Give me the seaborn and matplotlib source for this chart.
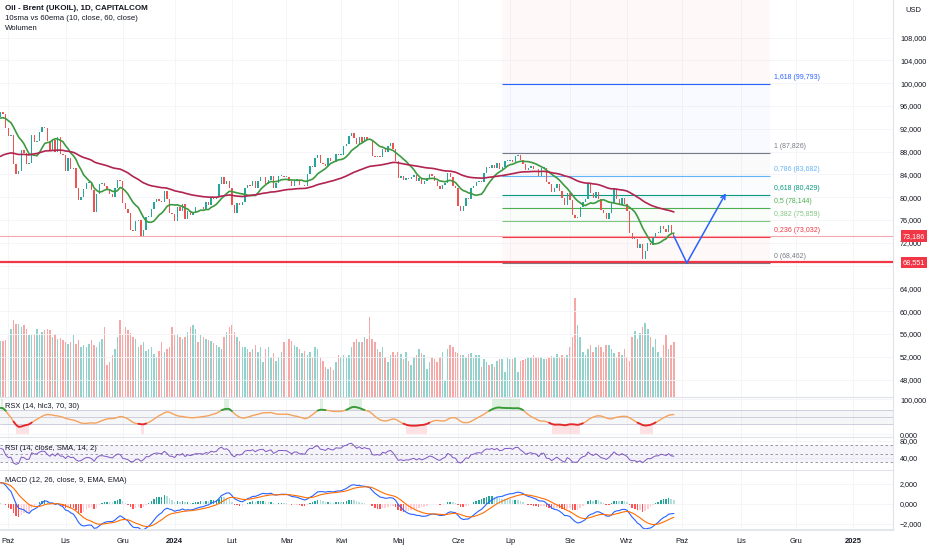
import numpy as np
import pandas as pd
import matplotlib
matplotlib.use("Agg")
import matplotlib.pyplot as plt
import matplotlib.transforms as mtransforms
import seaborn as sns

sns.set_theme(style="white")
plt.rcParams["font.family"] = ["Liberation Sans Narrow", "Liberation Sans", "DejaVu Sans"]

# daily closes (UKOIL CFD), one list per month
# warm-up closes before the first visible bar, they only feed the indicators
warmup_close = [84.9, 83.5, 84.1, 84.8, 84.5, 84.0, 83.2, 83.4, 84.5, 84.4, 85.5, 85.9, 86.8,
                88.6, 89.0, 90.0, 90.6, 89.9, 90.7, 90.6, 92.1, 91.9, 93.7, 93.9, 94.4, 94.3,
                93.5, 93.3, 93.3, 93.3, 94.0]
close_2023_09 = [95.0, 94.6, 92.2]
close_2023_10 = [90.7, 90.9, 85.8, 84.1, 84.6, 88.2, 87.7, 85.8, 86.0, 90.9, 89.7, 89.9, 91.5,
                 92.4, 92.2, 89.8, 88.1, 90.1, 87.9, 90.5, 87.5, 87.4]
close_2023_11 = [84.6, 86.9, 84.9, 85.2, 81.6, 79.5, 80.0, 81.4, 82.5, 82.5, 81.2, 77.4, 80.6,
                 82.3, 82.5, 82.0, 81.4, 80.6, 80.0, 81.7, 83.1, 82.8]
close_2023_12 = [78.9, 78.0, 77.2, 74.3, 74.1, 75.8, 76.0, 73.2, 74.3, 76.6, 76.6, 78.0, 79.2,
                 79.7, 79.4, 79.1, 81.1, 79.7, 77.2, 77.0]
close_2024_01 = [75.9, 78.3, 77.6, 78.8, 76.1, 77.6, 76.8, 77.4, 78.3, 78.2, 78.3, 77.9, 79.1,
                 78.6, 80.1, 79.6, 80.0, 82.4, 83.6, 82.4, 82.9, 81.7]
close_2024_02 = [78.7, 77.3, 79.0, 78.6, 79.2, 81.6, 82.2, 82.0, 82.8, 81.6, 82.9, 83.5, 83.6,
                 82.3, 83.0, 83.7, 81.6, 82.5, 83.7, 83.7, 83.6]
close_2024_03 = [83.6, 82.8, 82.0, 83.0, 83.0, 82.1, 82.2, 81.9, 84.0, 85.4, 85.3, 86.9, 87.4,
                 86.0, 85.8, 85.4, 86.8, 86.3, 86.1, 87.5, 87.4]
close_2024_04 = [87.4, 88.9, 89.4, 90.7, 91.2, 90.4, 89.4, 90.5, 89.7, 90.5, 90.1, 90.0, 87.3,
                 87.1, 87.3, 87.0, 88.4, 88.0, 89.0, 89.5, 88.4, 86.3]
close_2024_05 = [83.4, 83.7, 83.0, 83.3, 83.2, 83.6, 83.9, 82.8, 83.4, 82.4, 82.8, 83.3, 84.0,
                 83.7, 82.9, 81.9, 81.4, 82.1, 82.5, 84.2, 83.6, 81.9, 81.6]
close_2024_06 = [78.4, 77.5, 78.4, 79.9, 79.6, 81.6, 81.9, 82.6, 82.8, 82.6, 84.3, 85.3, 85.1,
                 85.7, 85.2, 86.0, 85.0, 85.3, 86.4, 86.4]
close_2024_07 = [86.6, 86.2, 87.3, 87.4, 86.5, 85.8, 84.7, 85.1, 85.4, 85.0, 84.9, 83.7, 85.1,
                 85.1, 82.6, 82.4, 81.0, 81.7, 82.4, 81.1, 79.8, 78.6, 80.7]
close_2024_08 = [79.5, 76.8, 76.3, 76.5, 78.3, 79.2, 79.7, 82.3, 80.7, 79.8, 81.0, 79.7, 77.7,
                 77.2, 76.1, 77.2, 79.0, 81.4, 79.6, 78.7, 79.9, 78.8]
close_2024_09 = [77.5, 73.8, 72.7, 72.7, 71.1, 71.8, 69.2, 70.6, 72.0, 71.6, 72.8, 73.7, 73.7,
                 74.9, 74.5, 73.9, 75.2, 73.5, 73.2]

# volume, same months (thousands)
vol_2023_09 = [56, 56, 57]
vol_2023_10 = [63, 68, 77, 73, 73, 70, 72, 68, 62, 62, 63, 68, 63, 65, 67, 68, 67, 60, 63, 58, 59, 57]
vol_2023_11 = [55, 53, 55, 62, 53, 57, 50, 52, 50, 53, 57, 52, 50, 55, 58, 70, 32, 35, 42, 48, 60, 77]
vol_2023_12 = [62, 70, 67, 64, 60, 58, 50, 52, 55, 46, 48, 50, 43, 40, 46, 55, 45, 48, 50, 70]
vol_2024_01 = [62, 63, 60, 58, 60, 65, 70, 72, 68, 55, 62, 60, 58, 57, 56, 54, 52, 50, 48, 60, 65, 70]
vol_2024_02 = [72, 65, 60, 56, 50, 50, 48, 45, 48, 52, 45, 50, 35, 48, 50, 40, 44, 36, 40, 45, 55]
vol_2024_03 = [50, 58, 56, 52, 50, 48, 44, 46, 42, 45, 40, 50, 48, 40, 36, 30, 28, 30, 27, 35, 42]
vol_2024_04 = [40, 42, 40, 42, 50, 55, 58, 55, 55, 60, 58, 80, 58, 55, 48, 45, 50, 40, 35, 42, 45, 42]
vol_2024_05 = [45, 43, 38, 45, 36, 32, 40, 42, 48, 44, 42, 28, 35, 40, 38, 35, 40, 45, 16, 48, 52, 50, 45]
vol_2024_06 = [44, 42, 42, 40, 43, 44, 40, 42, 42, 30, 38, 35, 32, 33, 30, 36, 38, 38, 25, 40]
vol_2024_07 = [38, 38, 40, 25, 36, 37, 38, 40, 40, 42, 40, 40, 40, 38, 38, 40, 41, 40, 43, 40, 42, 40, 42]
vol_2024_08 = [50, 60, 99, 72, 60, 45, 42, 48, 52, 45, 50, 52, 50, 45, 52, 52, 48, 44, 40, 45, 42, 48]
vol_2024_09 = [40, 36, 60, 66, 58, 64, 70, 74, 68, 60, 50, 58, 45, 40, 52, 62, 48, 52, 55]

close = (close_2023_09 + close_2023_10 + close_2023_11 + close_2023_12 + close_2024_01 +
         close_2024_02 + close_2024_03 + close_2024_04 + close_2024_05 + close_2024_06 +
         close_2024_07 + close_2024_08 + close_2024_09)
volume = (vol_2023_09 + vol_2023_10 + vol_2023_11 + vol_2023_12 + vol_2024_01 + vol_2024_02 +
          vol_2024_03 + vol_2024_04 + vol_2024_05 + vol_2024_06 + vol_2024_07 + vol_2024_08 +
          vol_2024_09)
ema60_start = 86.9  # 60 ema value at the left edge

# fibonacci drawing and horizontal lines
fib_levels = [0, 0.236, 0.382, 0.5, 0.618, 0.786, 1, 1.618, 2.618]
fib_prices = [68.462, 73.032, 75.859, 78.144, 80.429, 83.682, 87.826, 99.793, 119.157]
fib_colors = ["#787b86", "#f23645", "#81c784", "#4caf50", "#089981", "#64b5f6", "#787b86",
              "#2962ff", "#f23645"]
fib_start, fib_end = "2024-06-26", "2024-11-18"
support_price = 68.551
last_price = 73.186
path_bars = [0, 5, 20]          # bars after the last candle
path_prices = [73.19, 68.46, 80.7]

months_pl = {2: "Lut", 3: "Mar", 4: "Kwi", 5: "Maj", 6: "Cze", 7: "Lip", 8: "Sie", 9: "Wrz",
             10: "Paź", 11: "Lis", 12: "Gru"}

# bar calendar (no bars on 25 Dec and 1 Jan)
cal = pd.bdate_range("2023-09-27", "2025-01-31")
cal = cal[~cal.isin(pd.to_datetime(["2023-12-25", "2024-01-01"]))]
n = len(close)
x = np.arange(n)

# indicators
full = pd.Series(warmup_close + close, dtype=float)
w = len(warmup_close)
sma10 = full.rolling(10).mean().iloc[w:].to_numpy()
ema60 = pd.Series([ema60_start] + close).ewm(span=60, adjust=False).mean().iloc[1:].to_numpy()

d = full.diff()
up = d.clip(lower=0).ewm(alpha=1 / 14, adjust=False).mean()
dn = (-d.clip(upper=0)).ewm(alpha=1 / 14, adjust=False).mean()
rsi = (100 - 100 / (1 + up / dn)).iloc[w:].to_numpy()

macd_full = full.ewm(span=12, adjust=False).mean() - full.ewm(span=26, adjust=False).mean()
signal = macd_full.ewm(span=9, adjust=False).mean().iloc[w:].to_numpy()
macd = macd_full.iloc[w:].to_numpy()
hist = macd - signal


def rsx(src, length=14):
    f18 = 3.0 / (length + 2)
    f20 = 1 - f18
    f28 = f30 = f38 = f40 = f48 = f50 = f58 = f60 = f68 = f70 = f78 = f80 = 0.0
    prev = src[0] * 100
    out = np.full(len(src), 50.0)
    for i, s in enumerate(src):
        f8 = 100 * s
        v8 = f8 - prev
        prev = f8
        f28 = f20 * f28 + f18 * v8
        f30 = f18 * f28 + f20 * f30
        vc = f28 * 1.5 - f30 * 0.5
        f38 = f20 * f38 + f18 * vc
        f40 = f18 * f38 + f20 * f40
        v10 = f38 * 1.5 - f40 * 0.5
        f48 = f20 * f48 + f18 * v10
        f50 = f18 * f48 + f20 * f50
        v14 = f48 * 1.5 - f50 * 0.5
        f58 = f20 * f58 + f18 * abs(v8)
        f60 = f18 * f58 + f20 * f60
        v18 = f58 * 1.5 - f60 * 0.5
        f68 = f20 * f68 + f18 * v18
        f70 = f18 * f68 + f20 * f70
        v1c = f68 * 1.5 - f70 * 0.5
        f78 = f20 * f78 + f18 * v1c
        f80 = f18 * f78 + f20 * f80
        v20 = f78 * 1.5 - f80 * 0.5
        out[i] = 50.0 if v20 == 0 else min(max((v14 / v20 + 1) * 50, 0), 100)
    return out


rsx_val = rsx(full.to_numpy())[w:]

opens = np.array([warmup_close[-1]] + close[:-1])
closes = np.array(close)
is_up = closes >= opens
UP, DOWN = "#26a69a", "#ef5350"

# layout in pixels
W, H, RIGHT = 932, 550, 893


def box(top, bottom):
    return [0, 1 - bottom / H, RIGHT / W, (bottom - top) / H]


fig = plt.figure(figsize=(W / 100, H / 100), dpi=100)
ax_vol = fig.add_axes(box(0, 397))
ax = fig.add_axes(box(0, 397), sharex=ax_vol)
ax_rsx = fig.add_axes(box(397, 437), sharex=ax_vol)
ax_rsi = fig.add_axes(box(437, 470), sharex=ax_vol)
ax_macd = fig.add_axes(box(470, 530), sharex=ax_vol)
ax.patch.set_visible(False)

month_pos = [i for i in range(1, len(cal)) if cal[i].month != cal[i - 1].month]
month_lab = [str(cal[i].year) if cal[i].month == 1 else months_pl[cal[i].month] for i in month_pos]

grid_c = "#f2f4f8"
txt_c = "#131722"
sep_c = "#e0e3eb"
for a in [ax, ax_rsx, ax_rsi, ax_macd]:
    for s in a.spines.values():
        s.set_visible(False)
    a.spines["right"].set_visible(True)
    a.spines["right"].set_color(sep_c)
    a.spines["right"].set_linewidth(0.8)
    a.yaxis.tick_right()
    a.tick_params(axis="y", length=0, pad=5, labelsize=5.2, labelcolor=txt_c)
    a.tick_params(axis="x", length=0, labelbottom=False)
    a.set_xticks(month_pos)
    a.grid(True, color=grid_c, lw=0.6)
    a.set_axisbelow(True)
for a in [ax_rsx, ax_rsi, ax_macd]:
    a.spines["top"].set_visible(True)
    a.spines["top"].set_color(sep_c)
    a.spines["top"].set_linewidth(0.8)
ax_macd.spines["bottom"].set_visible(True)
ax_macd.spines["bottom"].set_color(sep_c)
ax_vol.axis("off")
ax.set_xlim(-0.2, 343.3)

# volume
ax_vol.bar(x, volume, width=0.6, color=np.where(is_up, UP, DOWN), alpha=0.5, lw=0)
ax_vol.set_ylim(0, 397)

# price pane (68 label sits under the red price tag)
yt = np.arange(48, 109, 4)
ax.set_yticks(yt)
ax.set_yticklabels(["" if v == 68 else f"{v:.3f}".replace(".", ",") for v in yt])
ax.set_ylim(44.95, 114.6)

# fib bands and levels
fx0 = cal.get_loc(pd.Timestamp(fib_start))
fx1 = cal.get_loc(pd.Timestamp(fib_end))
for i in range(len(fib_prices) - 1):
    ax.fill_between([fx0, fx1], fib_prices[i], fib_prices[i + 1], color=fib_colors[i + 1],
                    alpha=0.03, lw=0, zorder=1)
for lvl, p, c in zip(fib_levels[:-1], fib_prices[:-1], fib_colors[:-1]):
    ax.hlines(p, fx0, fx1, color=c, lw=0.8, zorder=2)
    lab = f"{lvl:g} ({p:.3f})".replace(".", ",")
    ax.annotate(lab, (fx1, p), xytext=(4, 3), textcoords="offset pixels", color=c,
                fontsize=5, va="bottom", ha="left")

ax.axhline(last_price, color="#f7a8ae", lw=0.8, zorder=2)
ax.axhline(support_price, color="#f23645", lw=1.6, zorder=6)

# candles
ax.bar(x, np.maximum(np.abs(closes - opens), 0.12), bottom=np.minimum(opens, closes),
       width=0.5, color=np.where(is_up, UP, DOWN), lw=0, zorder=3)
sns.lineplot(x=x, y=sma10, ax=ax, color="#3d9a40", lw=1.2, zorder=4)
sns.lineplot(x=x, y=ema60, ax=ax, color="#b1244f", lw=1.2, zorder=4)

# projected path
px = [n - 1 + b for b in path_bars]
ax.plot(px[:2], path_prices[:2], color="#2962ff", lw=1.1, zorder=6)
ax.annotate("", xy=(px[2], path_prices[2]), xytext=(px[1], path_prices[1]),
            arrowprops=dict(arrowstyle="->", color="#2962ff", lw=1.1, mutation_scale=8,
                            shrinkA=0, shrinkB=0), zorder=6)

# price tags on the scale
tr = mtransforms.blended_transform_factory(ax.transAxes, ax.transData)
for p in [last_price, support_price]:
    ax.text(1.011, p, f"{p:.3f}".replace(".", ","), transform=tr, color="white", fontsize=5.2,
            va="center", ha="left", clip_on=False, zorder=10,
            bbox=dict(boxstyle="square,pad=0.3", fc="#f23645", ec="none"))

# RSX pane
ax_rsx.axhspan(30, 70, color="#b2b5be", alpha=0.12, lw=0)
for lv in [70, 50, 30]:
    ax_rsx.axhline(lv, color="#c9c6d9", lw=0.6)
ax_rsx.fill_between(x, 70, 100, where=rsx_val > 70, color="#4caf50", alpha=0.18, lw=0)
ax_rsx.fill_between(x, 0, 30, where=rsx_val < 30, color="#f23645", alpha=0.15, lw=0)
sns.lineplot(x=x, y=rsx_val, ax=ax_rsx, color="#f5a35c", lw=1.0)
hi = rsx_val > 70
lo = rsx_val < 30
hi_ext = hi | np.roll(hi, 1) | np.roll(hi, -1)
lo_ext = lo | np.roll(lo, 1) | np.roll(lo, -1)
ax_rsx.plot(x, np.where(hi_ext, rsx_val, np.nan), color="#2e9e3a", lw=1.3)
ax_rsx.plot(x, np.where(lo_ext, rsx_val, np.nan), color="#e0282e", lw=1.3)
ax_rsx.set_ylim(-8, 107)
ax_rsx.set_yticks([0, 100])
ax_rsx.set_yticklabels(["0,000", "100,000"])

# RSI pane
ax_rsi.axhspan(30, 70, color="#7e57c2", alpha=0.07, lw=0)
for lv in [70, 50, 30]:
    ax_rsi.axhline(lv, color="#8a8d99", lw=0.6, ls=(0, (3, 3)))
sns.lineplot(x=x, y=rsi, ax=ax_rsi, color="#7e57c2", lw=0.7)
ax_rsi.set_ylim(11.8, 89.4)
ax_rsi.set_yticks([40, 80])
ax_rsi.set_yticklabels(["40,00", "80,00"])

# MACD pane
prev_h = np.r_[hist[0], hist[:-1]]
hcol = np.where(hist >= 0, np.where(hist > prev_h, "#26a69a", "#b2dfdb"),
                np.where(hist < prev_h, "#ff5252", "#ffcdd2"))
ax_macd.bar(x, hist, width=0.6, color=hcol, lw=0)
sns.lineplot(x=x, y=macd, ax=ax_macd, color="#2962ff", lw=0.8)
sns.lineplot(x=x, y=signal, ax=ax_macd, color="#ff6d00", lw=0.8)
ax_macd.set_ylim(-2.65, 3.35)
ax_macd.set_yticks([-2, 0, 2])
ax_macd.set_yticklabels(["\u22122,000", "0,000", "2,000"])

ax_macd.tick_params(axis="x", labelbottom=True, pad=6, labelsize=5.5, labelcolor=txt_c)
ax_macd.set_xticklabels(month_lab)
for t in ax_macd.get_xticklabels():
    if t.get_text().isdigit():
        t.set_fontweight("bold")
ax_macd.set_xlim(-0.2, 343.3)


# header texts
def ftext(px_x, px_y, s, **kw):
    fig.text(px_x / W, 1 - px_y / H, s, va="center", ha="left", color=txt_c, **kw)


ftext(5, 8, "Oil - Brent (UKOIL), 1D, CAPITALCOM", fontsize=5.8, fontweight="bold")
ftext(5, 18, "10sma vs 60ema (10, close, 60, close)", fontsize=5.6)
ftext(5, 29, "Wolumen", fontsize=5.6)
ftext(5, 406, "RSX (14, hlc3, 70, 30)", fontsize=5.4)
ftext(5, 449, "RSI (14, close, SMA, 14, 2)", fontsize=5.4)
ftext(5, 481, "MACD (12, 26, close, 9, EMA, EMA)", fontsize=5.4)
ftext(905, 10, "USD", fontsize=5.4)

fig.savefig("out.png", dpi=100)
